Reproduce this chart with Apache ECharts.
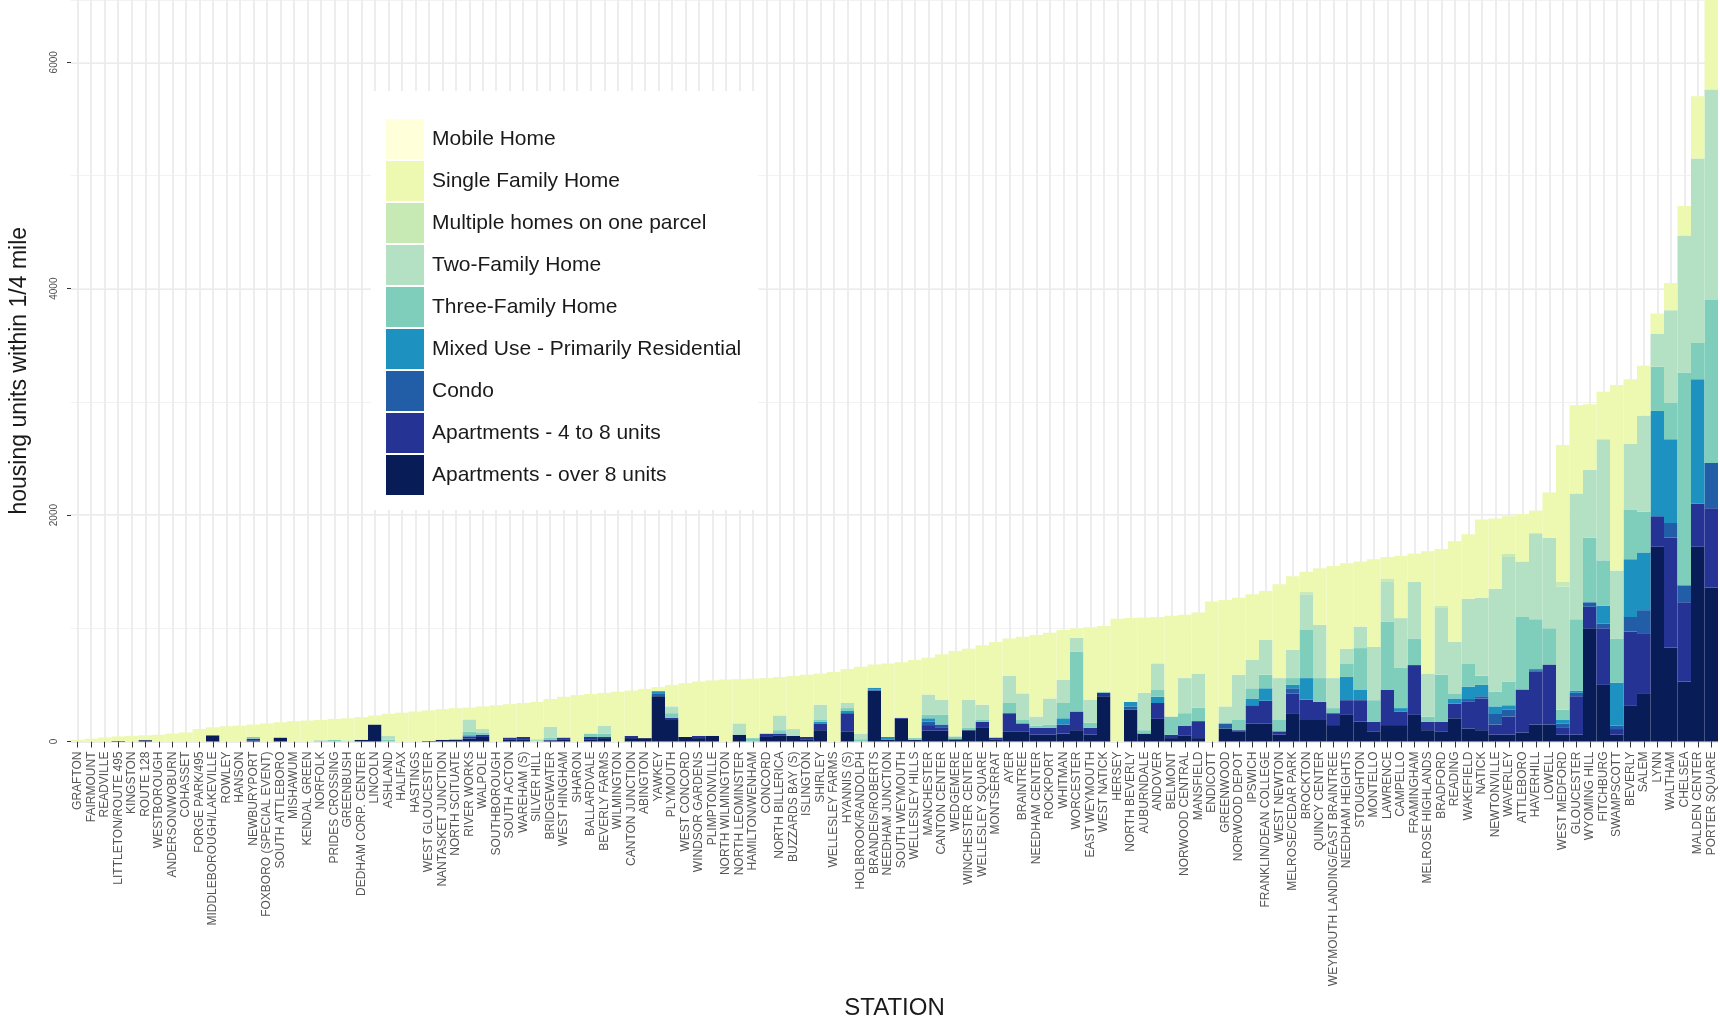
<!DOCTYPE html>
<html>
<head>
<meta charset="utf-8">
<script src="https://cdn.jsdelivr.net/npm/echarts@6/dist/echarts.min.js"></script>
<style>
  html, body { margin: 0; padding: 0; background: #ffffff; }
  #chart { width: 1720px; height: 1026px; }
</style>
</head>
<body>
<div id="chart"></div>
<script>
const stations = [
  'GRAFTON','FAIRMOUNT','READVILLE','LITTLETON/ROUTE 495','KINGSTON','ROUTE 128','WESTBOROUGH','ANDERSON/WOBURN','COHASSET','FORGE PARK/495',
  'MIDDLEBOROUGH/LAKEVILLE','ROWLEY','HANSON','NEWBURYPORT','FOXBORO (SPECIAL EVENT)','SOUTH ATTLEBORO','MISHAWUM','KENDAL GREEN','NORFOLK','PRIDES CROSSING',
  'GREENBUSH','DEDHAM CORP. CENTER','LINCOLN','ASHLAND','HALIFAX','HASTINGS','WEST GLOUCESTER','NANTASKET JUNCTION','NORTH SCITUATE','RIVER WORKS',
  'WALPOLE','SOUTHBOROUGH','SOUTH ACTON','WAREHAM (S)','SILVER HILL','BRIDGEWATER','WEST HINGHAM','SHARON','BALLARDVALE','BEVERLY FARMS',
  'WILMINGTON','CANTON JUNCTION','ABINGTON','YAWKEY','PLYMOUTH','WEST CONCORD','WINDSOR GARDENS','PLIMPTONVILLE','NORTH WILMINGTON','NORTH LEOMINSTER',
  'HAMILTON/WENHAM','CONCORD','NORTH BILLERICA','BUZZARDS BAY (S)','ISLINGTON','SHIRLEY','WELLESLEY FARMS','HYANNIS (S)','HOLBROOK/RANDOLPH','BRANDEIS/ROBERTS',
  'NEEDHAM JUNCTION','SOUTH WEYMOUTH','WELLESLEY HILLS','MANCHESTER','CANTON CENTER','WEDGEMERE','WINCHESTER CENTER','WELLESLEY SQUARE','MONTSERRAT','AYER',
  'BRAINTREE','NEEDHAM CENTER','ROCKPORT','WHITMAN','WORCESTER','EAST WEYMOUTH','WEST NATICK','HERSEY','NORTH BEVERLY','AUBURNDALE',
  'ANDOVER','BELMONT','NORWOOD CENTRAL','MANSFIELD','ENDICOTT','GREENWOOD','NORWOOD DEPOT','IPSWICH','FRANKLIN/DEAN COLLEGE','WEST NEWTON',
  'MELROSE/CEDAR PARK','BROCKTON','QUINCY CENTER','WEYMOUTH LANDING/EAST BRAINTREE','NEEDHAM HEIGHTS','STOUGHTON','MONTELLO','LAWRENCE','CAMPELLO','FRAMINGHAM',
  'MELROSE HIGHLANDS','BRADFORD','READING','WAKEFIELD','NATICK','NEWTONVILLE','WAVERLEY','ATTLEBORO','HAVERHILL','LOWELL',
  'WEST MEDFORD','GLOUCESTER','WYOMING HILL','FITCHBURG','SWAMPSCOTT','BEVERLY','SALEM','LYNN','WALTHAM','CHELSEA',
  'MALDEN CENTER','PORTER SQUARE'
];

// housing units within 1/4 mile, per station (10 per row)
const aptOver8 = [
  0,0,0,5,0,12,0,0,0,0,
  55,0,0,10,0,35,0,0,0,0,
  0,15,150,0,0,0,5,15,15,25,
  40,0,20,20,0,10,20,0,20,30,
  0,30,30,400,190,40,30,50,0,60,
  0,40,50,50,20,100,0,90,0,450,
  15,200,15,95,95,20,100,120,20,90,
  90,60,60,70,100,60,400,0,280,70,
  200,30,50,30,0,115,85,160,160,60,
  250,190,190,145,235,175,90,145,145,235,
  100,90,205,115,100,60,60,80,150,150,
  60,60,1000,500,60,320,420,1720,830,530,
  1720,1360
];
const apt4to8 = [
  0,0,0,0,0,0,0,0,0,0,
  0,0,0,15,0,0,0,0,0,0,
  0,0,0,0,0,0,0,0,0,20,
  20,0,15,20,0,5,15,0,20,10,
  0,20,0,0,20,0,20,0,0,0,
  0,30,20,0,20,60,0,160,0,0,
  0,10,0,50,25,0,0,55,15,160,
  70,60,60,80,165,60,30,0,0,0,
  140,30,90,150,0,0,15,160,200,30,
  175,180,160,105,130,190,85,310,120,440,
  75,85,130,240,280,90,160,380,470,530,
  60,340,190,500,50,650,530,270,970,700,
  380,700
];
const condo = [
  0,0,0,0,0,0,0,0,0,0,
  0,0,0,0,0,0,0,0,0,0,
  0,0,0,0,0,0,0,0,0,0,
  0,0,0,0,0,0,0,0,0,0,
  0,0,0,20,0,0,0,0,0,0,
  0,0,0,0,0,0,0,0,0,10,
  0,0,0,30,30,0,0,0,0,0,
  0,0,0,0,0,0,0,0,30,0,
  0,0,0,0,0,45,0,0,0,0,
  45,0,0,0,0,0,0,0,0,0,
  0,0,0,20,20,100,60,0,10,0,
  40,30,40,40,30,130,210,0,130,150,
  0,400
];
const mixedUse = [
  0,0,0,0,0,0,0,0,0,0,
  0,0,0,0,0,0,0,0,0,0,
  0,0,0,0,0,0,0,0,0,10,
  0,0,0,0,0,0,0,0,0,0,
  0,0,0,25,0,0,0,0,0,0,
  0,0,0,0,0,15,0,20,0,15,
  25,0,0,30,0,0,0,0,0,0,
  0,0,0,55,0,0,0,0,40,0,
  55,0,0,0,0,0,0,60,110,0,
  30,190,0,0,205,90,0,0,30,0,
  0,0,45,110,100,60,40,0,10,0,
  30,20,0,160,380,510,510,930,740,0,
  1100,0
];
const threeFamily = [
  0,0,0,0,0,0,0,0,0,0,
  0,0,0,15,0,0,0,0,10,15,
  0,0,0,15,0,0,0,0,10,30,
  20,0,0,0,0,20,0,0,30,30,
  0,0,0,0,40,0,0,0,0,0,
  30,0,30,0,0,20,0,25,20,0,
  0,0,15,30,85,25,20,20,0,90,
  30,20,30,135,530,45,10,0,0,30,
  60,160,110,120,0,0,90,90,120,100,
  60,430,210,45,120,370,190,605,355,235,
  45,415,45,200,80,130,210,640,440,320,
  90,630,570,400,390,440,360,390,320,1880,
  320,1440
];
const twoFamily = [
  0,0,0,0,0,0,0,0,0,0,
  0,0,0,0,0,0,0,0,0,0,
  10,0,0,35,0,0,0,0,0,110,
  30,0,0,0,20,95,0,0,0,70,
  0,0,0,0,60,0,0,0,0,100,
  0,0,130,60,0,130,0,45,50,0,
  0,0,0,180,135,0,250,130,0,240,
  235,80,230,205,120,205,0,0,0,330,
  235,0,310,300,0,150,400,250,310,370,
  250,310,470,265,130,190,470,350,440,500,
  380,590,455,575,690,910,1100,490,760,800,
  1090,1110,600,1070,600,580,850,290,820,1210,
  1630,1860
];
const multiHomes = [
  0,0,0,0,0,0,0,0,0,0,
  0,0,0,0,0,0,0,0,0,0,
  0,0,0,0,0,0,0,0,0,0,
  0,0,0,0,0,0,0,0,0,0,
  0,0,0,0,0,0,0,0,0,0,
  0,0,0,0,0,0,0,0,0,0,
  0,0,0,0,0,0,0,0,0,0,
  0,0,0,0,0,0,0,0,0,0,
  0,0,0,0,0,0,0,0,0,0,
  0,20,0,0,0,0,0,30,0,0,
  0,20,0,0,0,0,30,0,0,0,
  40,0,0,0,0,0,0,0,0,0,
  0,0
];
const singleFamily = [
  15,25,35,40,50,43,60,70,80,110,
  70,135,140,110,160,135,180,185,180,185,
  195,200,80,195,255,265,270,270,270,105,
  200,320,295,300,330,245,360,410,350,290,
  440,400,435,35,190,475,480,490,548,390,
  525,490,340,470,550,275,615,300,590,205,
  650,490,690,325,400,755,450,525,845,330,
  500,720,580,440,85,640,580,1085,740,665,
  410,890,560,540,1236,940,680,580,430,830,
  650,180,500,990,755,575,775,190,550,250,
  1080,500,890,570,690,620,330,420,200,400,
  1210,780,580,420,1640,570,440,180,240,260,
  550,790
];
const mobileHome = [
  0,0,0,0,0,0,0,0,0,0,
  0,0,0,0,0,0,0,0,0,0,
  0,0,0,0,0,0,0,0,0,0,
  0,0,0,0,0,0,0,0,0,0,
  0,0,0,0,0,0,0,0,0,0,
  0,0,0,0,0,0,0,0,0,0,
  0,0,0,0,0,0,0,0,0,0,
  0,0,0,0,0,0,0,0,0,0,
  0,0,0,0,0,0,0,0,0,0,
  0,0,0,0,0,0,0,0,0,0,
  0,0,0,0,0,0,0,0,0,0,
  0,0,0,0,0,0,0,0,0,0,
  0,0
];
const yTicks = [0, 2000, 4000, 6000];

// bottom of the stack first
const layers = [
  { name: 'Apartments - over 8 units', data: aptOver8, color: '#081d58' },
  { name: 'Apartments - 4 to 8 units', data: apt4to8, color: '#253494' },
  { name: 'Condo', data: condo, color: '#225ea8' },
  { name: 'Mixed Use - Primarily Residential', data: mixedUse, color: '#1d91c0' },
  { name: 'Three-Family Home', data: threeFamily, color: '#7fcdbb' },
  { name: 'Two-Family Home', data: twoFamily, color: '#b4e1c4' },
  { name: 'Multiple homes on one parcel', data: multiHomes, color: '#c7e9b4' },
  { name: 'Single Family Home', data: singleFamily, color: '#edf8b1' },
  { name: 'Mobile Home', data: mobileHome, color: '#ffffd9' },
];

const font = 'Liberation Sans, Arial, sans-serif';
const chartInstance = echarts.init(document.getElementById('chart'));

const option = {
  animation: false,
  backgroundColor: '#ffffff',
  color: layers.map(l => l.color),
  legend: {
    show: true,
    orient: 'vertical',
    left: 371,
    top: 91,
    padding: [28, 17, 15, 15],
    backgroundColor: '#ffffff',
    icon: 'rect',
    itemWidth: 38,
    itemHeight: 40,
    itemGap: 2,
    textStyle: {
      color: '#1a1a1a',
      fontSize: 21,
      fontFamily: font,
      padding: [0, 0, 0, 3],
    },
    data: layers.map(l => l.name).reverse(),
  },
  grid: {
    left: 68,
    right: 2,
    top: 0,
    bottom: 284.5,
  },
  xAxis: {
    type: 'category',
    data: stations,
    name: 'STATION',
    nameLocation: 'middle',
    nameGap: 255,
    nameTextStyle: {
      color: '#1a1a1a',
      fontSize: 24,
      fontFamily: font,
    },
    axisLine: { show: false },
    axisTick: {
      show: true,
      alignWithLabel: true,
      interval: 0,
      length: 6,
      lineStyle: { color: '#333333', width: 1 },
    },
    axisLabel: {
      interval: 0,
      rotate: 90,
      margin: 10,
      fontSize: 12,
      color: '#555555',
      fontFamily: font,
    },
    // 竖向网格线，对准每个站点中心
    splitLine: {
      show: true,
      alignWithLabel: true,
      interval: 0,
      lineStyle: { color: '#ebebeb', width: 1.8 },
    },
  },
  yAxis: [
    {
      type: 'value',
      min: 0,
      max: 6550,
      interval: 2000,
      name: 'housing units within 1/4 mile',
      nameLocation: 'middle',
      nameGap: 40,
      nameTextStyle: {
        color: '#1a1a1a',
        fontSize: 23,
        fontFamily: font,
      },
      axisLine: { show: false },
      axisTick: { show: true, length: 4, lineStyle: { color: '#333333' } },
      axisLabel: {
        rotate: 90,
        margin: 12,
        fontSize: 10,
        color: '#4d4d4d',
        fontFamily: font,
        showMaxLabel: false,
        formatter: (v) => (yTicks.indexOf(v) >= 0 ? String(v) : ''),
      },
      splitLine: {
        show: true,
        lineStyle: { color: '#ebebeb', width: 1.8 },
      },
    },
    {
      // 次网格线
      type: 'value',
      min: 0,
      max: 6550,
      interval: 1000,
      position: 'left',
      axisLine: { show: false },
      axisTick: { show: false },
      axisLabel: { show: false },
      splitLine: {
        show: true,
        lineStyle: { color: '#f2f2f2', width: 1 },
      },
    },
  ],
  series: layers.map(l => ({
    name: l.name,
    type: 'bar',
    stack: 'total',
    barCategoryGap: '0%',
    barWidth: '100%',
    yAxisIndex: 0,
    itemStyle: { color: l.color },
    emphasis: { disabled: true },
    data: l.data,
  })),
};

chartInstance.setOption(option);
</script>
</body>
</html>
